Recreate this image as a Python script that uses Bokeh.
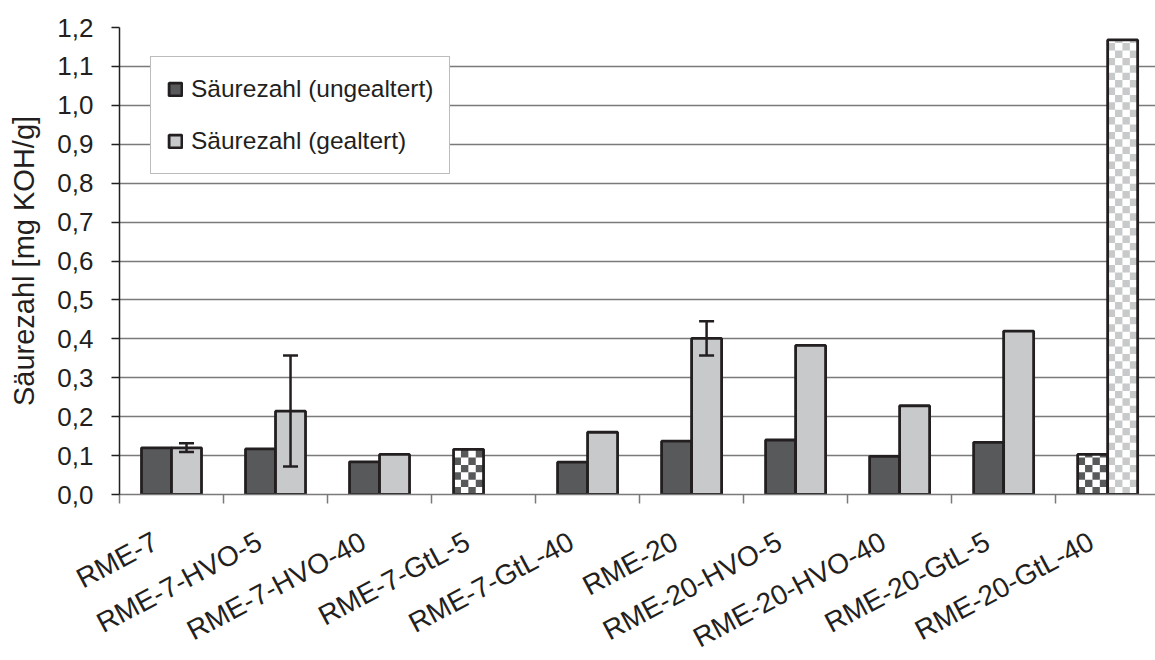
import math
from bokeh.plotting import figure
from bokeh.models import (FixedTicker, CustomJSTickFormatter, ColumnDataSource, Whisker,
                          TeeHead, Legend, LegendItem, Range1d)
from bokeh.embed import file_html
from bokeh.resources import INLINE

# ---------------- data ----------------
categories = ["RME-7", "RME-7-HVO-5", "RME-7-HVO-40", "RME-7-GtL-5", "RME-7-GtL-40",
              "RME-20", "RME-20-HVO-5", "RME-20-HVO-40", "RME-20-GtL-5", "RME-20-GtL-40"]
ungealtert = [0.120, 0.117, 0.084, 0.116, 0.083, 0.137, 0.140, 0.098, 0.134, 0.103]
gealtert = [0.120, 0.214, 0.103, None, 0.160, 0.401, 0.383, 0.228, 0.420, 1.168]
ungealtert_checker = [False, False, False, True, False, False, False, False, False, True]
gealtert_checker = [False, False, False, False, False, False, False, False, False, True]
err_categories = ["RME-7", "RME-7-HVO-5", "RME-20"]
err_lower = [0.109, 0.072, 0.357]
err_upper = [0.132, 0.357, 0.445]
y_ticks = [0.0, 0.1, 0.2, 0.3, 0.4, 0.5, 0.6, 0.7, 0.8, 0.9, 1.0, 1.1, 1.2]
series_labels = ["Säurezahl (ungealtert)", "Säurezahl (gealtert)"]

# ---------------- style / layout ----------------
FONT = "Liberation Sans"
TXT = "#231f20"
DARK = "#58595b"
LIGHT = "#c8c9cb"
GRID = "#7a7a7a"
FRAME_W, FRAME_H = 1036, 467
X_END = 9.96
Y_END = 1.2
PX_X = FRAME_W / X_END
PX_Y = FRAME_H / Y_END
BAR_W = 30 / PX_X
CELL = 7.4
LABEL_SHIFT = 16 / PX_X
BAR_LW = 2.8

p = figure(frame_width=FRAME_W, frame_height=FRAME_H,
           x_range=Range1d(0, X_END), y_range=Range1d(0, Y_END),
           output_backend="svg", toolbar_location=None,
           min_border_left=119, min_border_top=27, min_border_right=0, min_border_bottom=10,
           background_fill_color="white", border_fill_color="white")
p.outline_line_color = None

# axes
xa = p.xaxis[0]
xa.ticker = FixedTicker(ticks=[i + 0.5 - LABEL_SHIFT for i in range(len(categories))],
                        minor_ticks=list(range(len(categories))))
xa.formatter = CustomJSTickFormatter(args=dict(labels=categories),
                                     code="return labels[Math.floor(tick)]")
xa.major_tick_out = 0
xa.major_tick_in = 0
xa.minor_tick_out = 9
xa.minor_tick_in = 0
xa.minor_tick_line_color = GRID
xa.minor_tick_line_width = 1.5
xa.axis_line_color = GRID
xa.axis_line_width = 1.5
xa.major_label_orientation = math.radians(28)
xa.major_label_standoff = 36
xa.major_label_text_font = FONT
xa.major_label_text_font_size = "28px"
xa.major_label_text_color = TXT

ya = p.yaxis[0]
ya.ticker = FixedTicker(ticks=y_ticks, minor_ticks=[])
ya.formatter = CustomJSTickFormatter(code="return tick.toFixed(1).replace('.', ',')")
ya.major_tick_out = 8
ya.major_tick_in = 0
ya.major_tick_line_color = TXT
ya.major_tick_line_width = 1.5
ya.axis_line_color = TXT
ya.axis_line_width = 1.5
ya.major_label_standoff = 18
ya.major_label_text_font = FONT
ya.major_label_text_font_size = "26px"
ya.major_label_text_color = TXT
ya.axis_label = "Säurezahl [mg KOH/g]"
ya.axis_label_text_font = FONT
ya.axis_label_text_font_size = "29px"
ya.axis_label_text_font_style = "normal"
ya.axis_label_text_color = TXT
ya.axis_label_standoff = 14

p.xgrid.visible = False
p.ygrid.grid_line_color = GRID
p.ygrid.grid_line_width = 1.5

# ---------------- bars ----------------
def split(values, checker, offset):
    solid = dict(x=[], top=[])
    chk = dict(x=[], top=[])
    for i, (v, c) in enumerate(zip(values, checker)):
        if v is None:
            continue
        d = chk if c else solid
        d["x"].append(i + 0.5 + offset)
        d["top"].append(v)
    return solid, chk

def checker_cells(chk):
    cw = CELL / PX_X
    ch = CELL / PX_Y
    cells = dict(left=[], right=[], bottom=[], top=[])
    for xc, top in zip(chk["x"], chk["top"]):
        x0, x1 = xc - BAR_W / 2, xc + BAR_W / 2
        ncol = math.ceil(BAR_W / cw)
        nrow = math.ceil(top / ch)
        for r in range(nrow):
            for c in range(ncol):
                if (r + c) % 2 == 0:
                    cells["left"].append(x0 + c * cw)
                    cells["right"].append(min(x0 + (c + 1) * cw, x1))
                    cells["bottom"].append(r * ch)
                    cells["top"].append(min((r + 1) * ch, top))
    return cells

legend_renderers = []
for values, checker, offset, color in [(ungealtert, ungealtert_checker, -BAR_W / 2, DARK),
                                       (gealtert, gealtert_checker, BAR_W / 2, LIGHT)]:
    solid, chk = split(values, checker, offset)
    r = p.vbar(x="x", top="top", width=BAR_W, bottom=0, source=ColumnDataSource(solid),
               fill_color=color, line_color=TXT, line_width=BAR_LW)
    legend_renderers.append(r)
    if chk["x"]:
        src = ColumnDataSource(chk)
        p.vbar(x="x", top="top", width=BAR_W, bottom=0, source=src,
               fill_color="white", line_color=None)
        p.quad(source=ColumnDataSource(checker_cells(chk)), left="left", right="right",
               bottom="bottom", top="top", fill_color=color, line_color=None)
        p.vbar(x="x", top="top", width=BAR_W, bottom=0, source=src,
               fill_color=None, line_color=TXT, line_width=BAR_LW)

# ---------------- error bars ----------------
err_src = ColumnDataSource(dict(
    x=[categories.index(c) + 0.5 + BAR_W / 2 for c in err_categories],
    lower=err_lower, upper=err_upper))
p.add_layout(Whisker(source=err_src, base="x", lower="lower", upper="upper",
                     dimension="height", line_color=TXT, line_width=2.5, level="overlay",
                     upper_head=TeeHead(size=15, line_color=TXT, line_width=2.5),
                     lower_head=TeeHead(size=15, line_color=TXT, line_width=2.5)))

# ---------------- legend ----------------
legend = Legend(items=[LegendItem(label=series_labels[0], renderers=[legend_renderers[0]]),
                       LegendItem(label=series_labels[1], renderers=[legend_renderers[1]])],
                location=(31, 320), orientation="vertical",
                padding=16, spacing=20, margin=0,
                glyph_width=16, glyph_height=16, label_height=32, label_standoff=8,
                label_text_font=FONT, label_text_font_size="24.5px", label_text_color=TXT,
                border_line_color=GRID, border_line_width=1.5,
                background_fill_color="white", background_fill_alpha=1.0)
p.add_layout(legend, "center")

open("out.html", "w").write(file_html(p, INLINE))
